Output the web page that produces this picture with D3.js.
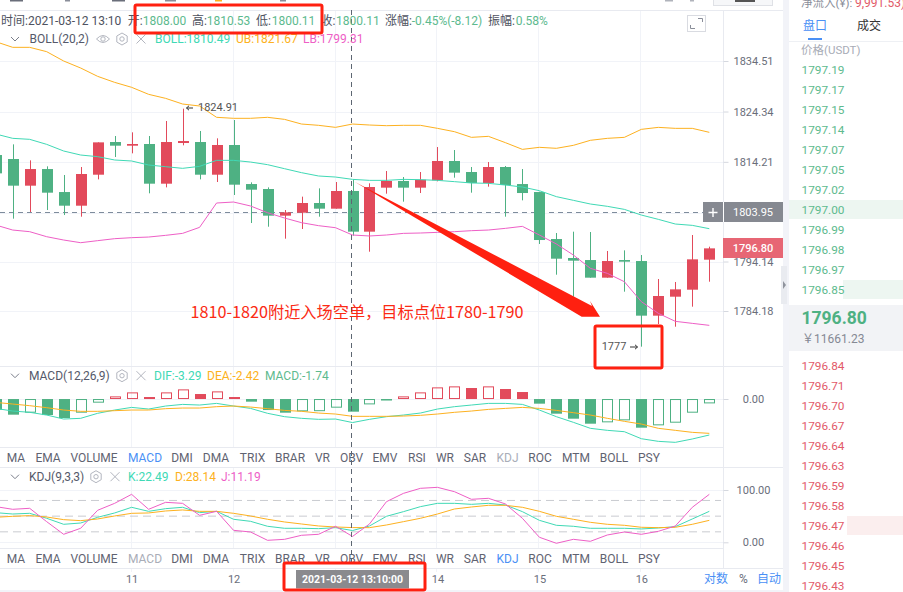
<!DOCTYPE html>
<html><head><meta charset="utf-8">
<script src="https://cdnjs.cloudflare.com/ajax/libs/d3/7.8.5/d3.min.js"></script>
<style>
html,body{margin:0;padding:0;background:#fff;overflow:hidden}
svg{display:block}
text{font-family:Roboto,"Noto Sans CJK SC",sans-serif}
</style></head><body><svg id="c" width="903" height="592"></svg>
<script>
const opens=[1815.58,1814.78,1809.41,1812.76,1808.13,1805.38,1811.62,1818.20,1817.46,1817.80,1809.81,1818.00,1818.20,1811.62,1817.60,1809.74,1808.74,1803.37,1803.97,1805.92,1804.78,1808.34,1800.15,1809.01,1810.35,1809.01,1810.48,1814.38,1812.16,1809.95,1813.17,1809.74,1808.13,1798.67,1794.85,1794.44,1790.89,1794.44,1794.24,1783.24,1787.06,1788.47,1794.51];
const highs=[1816.50,1817.73,1814.51,1813.30,1811.56,1813.17,1818.13,1819.41,1820.15,1819.41,1822.43,1824.91,1820.42,1818.94,1822.63,1810.08,1809.07,1804.51,1807.20,1808.87,1810.15,1810.68,1809.88,1812.36,1811.15,1812.16,1817.19,1816.59,1813.17,1814.17,1813.37,1812.76,1808.20,1799.88,1800.15,1800.08,1796.26,1796.39,1795.45,1790.62,1790.02,1799.48,1797.13];
const lows=[1810.00,1802.77,1804.11,1804.51,1803.50,1803.17,1810.68,1815.18,1815.92,1807.87,1809.07,1817.53,1810.68,1810.15,1807.53,1801.89,1801.15,1798.74,1800.69,1803.17,1804.78,1799.34,1796.12,1807.80,1806.19,1807.93,1810.28,1811.02,1808.00,1809.21,1803.17,1806.46,1797.67,1791.49,1787.06,1790.89,1790.89,1788.07,1777.00,1781.56,1781.02,1785.05,1790.08];
const closes=[1811.89,1809.41,1812.76,1808.00,1805.38,1811.76,1818.13,1817.46,1817.80,1809.81,1818.20,1818.40,1811.62,1817.60,1809.61,1808.60,1803.37,1804.04,1805.92,1804.78,1808.34,1800.15,1809.14,1810.35,1809.01,1810.62,1814.38,1812.03,1809.95,1813.17,1809.54,1807.93,1798.47,1794.71,1794.31,1790.89,1794.24,1794.11,1783.24,1787.20,1788.54,1794.58,1796.79];
const bollUp=[1838.40,1837.26,1837.26,1836.39,1834.51,1833.10,1831.42,1830.21,1829.21,1827.80,1826.99,1825.85,1825.45,1823.17,1822.97,1822.97,1823.17,1822.76,1821.82,1821.56,1821.15,1821.82,1821.62,1821.49,1821.56,1821.56,1820.95,1820.28,1819.14,1819.34,1818.07,1816.72,1817.13,1816.93,1817.53,1818.54,1818.94,1819.14,1820.75,1821.15,1820.95,1820.95,1820.15];
const bollMid=[1819.81,1818.94,1818.74,1817.73,1816.39,1815.58,1815.25,1814.58,1814.38,1813.57,1813.23,1812.90,1813.30,1814.51,1814.51,1814.17,1813.64,1812.83,1812.03,1811.36,1811.15,1810.68,1810.48,1810.48,1810.68,1810.62,1810.48,1810.22,1809.95,1809.88,1809.54,1809.14,1808.40,1807.20,1806.46,1805.72,1805.25,1804.64,1803.50,1802.63,1801.69,1801.42,1800.75];
const bollLow=[1801.49,1800.48,1800.15,1799.14,1798.47,1797.93,1798.34,1798.74,1798.94,1799.07,1799.41,1799.81,1801.02,1805.92,1806.12,1805.32,1803.97,1802.90,1801.96,1801.36,1800.95,1799.48,1799.28,1799.48,1799.81,1799.88,1800.01,1800.15,1800.35,1800.48,1800.82,1801.22,1799.48,1797.67,1795.45,1792.77,1791.76,1790.08,1786.06,1783.71,1782.10,1781.69,1781.29];
const macdBars=[-1.50,-2.19,-1.91,-2.24,-2.66,-1.91,-0.51,0.37,0.93,0.28,0.93,1.35,0.70,1.07,0.28,-0.37,-1.54,-1.91,-1.72,-1.70,-1.21,-1.77,-0.75,-0.14,0.37,0.93,1.63,1.77,1.54,1.77,1.40,0.98,-0.65,-2.05,-2.75,-3.45,-3.26,-2.98,-4.01,-3.68,-3.31,-1.91,-0.61];
const difLine=[-1.31,-1.68,-1.86,-2.24,-2.80,-2.70,-2.00,-1.54,-1.17,-1.40,-0.98,-0.75,-0.84,-0.61,-0.98,-1.31,-2.00,-2.47,-2.70,-2.84,-2.80,-3.29,-2.84,-2.47,-2.24,-1.96,-1.40,-1.07,-0.84,-0.61,-0.61,-0.75,-1.54,-2.47,-3.26,-4.10,-4.38,-4.57,-5.55,-5.92,-6.06,-5.59,-5.03];
const deaLine=[-0.47,-0.70,-0.93,-1.21,-1.54,-1.72,-1.72,-1.63,-1.54,-1.54,-1.35,-1.26,-1.26,-1.07,-0.98,-1.12,-1.35,-1.59,-1.72,-1.96,-2.10,-2.42,-2.42,-2.42,-2.38,-2.28,-2.10,-1.86,-1.68,-1.45,-1.31,-1.17,-1.31,-1.59,-1.91,-2.24,-2.70,-3.12,-3.50,-4.10,-4.38,-4.66,-4.80];
const kLine=[56.7,54.1,55.4,45.9,34.4,36.9,47.8,56.1,66.9,59.2,64.3,66.9,56.7,59.2,44.0,40.1,30.6,26.8,26.8,26.1,28.0,22.49,31.2,49.7,58.6,68.2,74.5,74.5,72.6,74.5,71.3,58.6,42.0,32.5,30.6,26.8,26.8,26.8,25.5,27.4,29.9,44.6,59.2];
const dLine=[47.8,49.7,51.0,48.4,43.3,41.4,44.6,50.3,55.4,56.1,59.9,61.8,59.2,59.2,55.4,50.3,44.0,38.9,35.0,31.2,29.3,28.14,28.0,33.1,39.5,45.9,54.1,63.7,67.5,70.7,70.7,66.9,59.2,49.7,44.0,38.2,34.4,32.5,28.7,28.0,28.7,34.4,42.0];
const jLine=[68.2,63.1,65.0,39.5,15.3,26.8,61.2,74.5,91.7,63.1,76.4,74.5,51.6,59.2,22.9,19.7,3.8,5.7,13.4,15.3,30.6,11.19,35.0,77.7,93.6,103.2,105.1,96.8,82.2,84.1,73.3,45.9,9.6,-1.9,5.7,1.9,14.0,19.7,15.3,21.0,31.2,66.9,91.7];
const priceTicks=[1834.51,1824.34,1814.21,1794.14,1784.18];
const macdTicks=[0];
const kdjTicks=[100,0];
const kdjGuides=[80,50,20];
const dateTickIdx=[8,14,26,32,38];
const dateTickLabels=["11","12","14","15","16"];
const gridIdx=[8,14,20,26,32,38];
const tabs=["MA","EMA","VOLUME","MACD","DMI","DMA","TRIX","BRAR","VR","OBV","EMV","RSI","WR","SAR","KDJ","ROC","MTM","BOLL","PSY"];
const tabX=[16,48,94,145,182,216,252.6,290,322.5,351.5,385,417,445,475,507.5,540,576,614,649];
const askPrices=["1797.19","1797.17","1797.15","1797.14","1797.07","1797.05","1797.02","1797.00","1796.99","1796.98","1796.97","1796.85"];
const bidPrices=["1796.84","1796.71","1796.70","1796.67","1796.64","1796.63","1796.59","1796.58","1796.47","1796.46","1796.45","1796.43"];

const GREEN="#4eb183",RED="#e24a5b",TEAL="#40d9b5",ORANGE="#fdb120",PINK="#ee5fc6",GRID="#f1f3f8",LINE="#e8eaf0",TXT="#5f6371",TG="#5dba8e",BLUE="#4a90f5",RTX="#e25a69";
const svg=d3.select("#c");
const n=opens.length;
const x=d3.scaleLinear().domain([0,n-1]).range([-4.3,709.3]);
const yP=d3.scaleLinear().domain([1784.18,1834.51]).range([311,61]);
const yM=d3.scaleLinear().domain([-6.71,4.48]).range([447,367]);
const yK=d3.scaleLinear().domain([0,100]).range([542.3,490]);
const idx=d3.range(n);
function T(s,px,py,o={}){const t=svg.append("text").attr("x",px).attr("y",py).attr("fill",o.c||TXT).attr("font-size",o.s||12).attr("dominant-baseline","central").attr("text-anchor",o.a||"start").text(s);if(o.w)t.attr("font-weight",o.w);if(o.ls)t.attr("letter-spacing",o.ls);if(o.f)t.style("font-family",o.f);return t;}
function R(a,b,w,h,f){return svg.append("rect").attr("x",a).attr("y",b).attr("width",w).attr("height",h).attr("fill",f);}
function HL(a,b,yy,c,sw=1,dash){const l=svg.append("line").attr("x1",a).attr("x2",b).attr("y1",yy).attr("y2",yy).attr("stroke",c).attr("stroke-width",sw);if(dash)l.attr("stroke-dasharray",dash);return l;}
function VL(xx,a,b,c,sw=1,dash){const l=svg.append("line").attr("x1",xx).attr("x2",xx).attr("y1",a).attr("y2",b).attr("stroke",c).attr("stroke-width",sw);if(dash)l.attr("stroke-dasharray",dash);return l;}

// page pieces
R(783,0,6,592,"#f2f3f8");
R(0,590,789,2,"#f2f3f8");
// cut-off toolbar at the very top
[[10,13,"#6a6e7a"],[65,5,"#8a8e99"],[112,13,"#6a6e7a"],[165,11,"#8a8e99"],[215,7,ORANGE],[280,6,"#8a8e99"],[665,8,"#b0b3bb"],[690,4,"#b0b3bb"]].forEach(b=>R(b[0],0,b[1],1.5,b[2]));
svg.append("rect").attr("x",713.5).attr("y",-3).attr("width",59).attr("height",8.5).attr("fill","#f6f7f9").attr("stroke","#dfe1e6");
R(735,0,20,2,"#555");

// grids
gridIdx.forEach(i=>{const gx=Math.round(x(i))-0.5;VL(gx,10,447,GRID);VL(gx,467,548,GRID);VL(gx,568,572,GRID);});
priceTicks.concat([1803.95]).forEach(v=>HL(0,723,Math.round(yP(v))+0.5,GRID));
macdTicks.forEach(v=>HL(0,723,Math.round(yM(v))+0.5,GRID));
kdjTicks.forEach(v=>HL(0,723,Math.round(yK(v))+0.5,GRID));
[10.5,366.5,447.5,467.5,548.5].forEach(v=>HL(0,723,v,LINE,v===366.5?1.2:1));
HL(0,783,568.5,LINE);
HL(723,783,10.5,LINE);HL(723,783,366.5,LINE);HL(723,783,467.5,LINE);
VL(723.5,10,568,LINE);

// axes
function styleAxis(g){g.select(".domain").remove();g.selectAll(".tick line").attr("stroke","#d5d8df");g.selectAll(".tick text").attr("x",30).attr("text-anchor","middle").attr("fill","#6a6e7a").attr("font-size",11).style("font-family","Roboto");}
svg.append("g").attr("transform","translate(723.5,0)").call(d3.axisRight(yP).tickValues(priceTicks).tickSize(5).tickFormat(d3.format(".2f"))).call(styleAxis);
svg.append("g").attr("transform","translate(723.5,0)").call(d3.axisRight(yM).tickValues(macdTicks).tickSize(5).tickFormat(d3.format(".2f"))).call(styleAxis);
svg.append("g").attr("transform","translate(723.5,0)").call(d3.axisRight(yK).tickValues(kdjTicks).tickSize(5).tickFormat(d3.format(".2f"))).call(styleAxis);
const xAx=svg.append("g").attr("transform","translate(0,572)").call(d3.axisBottom(x).tickValues(dateTickIdx).tickSize(0).tickFormat((d,i)=>dateTickLabels[i]));
xAx.select(".domain").remove();
xAx.selectAll(".tick text").attr("y",7).attr("dy","0").attr("dominant-baseline","central").attr("fill","#6a6e7a").attr("font-size",11).style("font-family","Roboto");

// current price dash
HL(0,703,212.5,"#7e8c9c",1,"5,4");

// candles
const cg=svg.append("g");
idx.forEach(i=>{const up=closes[i]>=opens[i],col=up?RED:GREEN,cx=Math.round(x(i))+0.5;
  cg.append("line").attr("x1",cx).attr("x2",cx).attr("y1",yP(highs[i])).attr("y2",yP(lows[i])).attr("stroke",col).attr("stroke-width",1);
  const t=yP(Math.max(opens[i],closes[i])),b=yP(Math.min(opens[i],closes[i]));
  cg.append("rect").attr("x",cx-5.5).attr("y",t).attr("width",11).attr("height",Math.max(1,b-t)).attr("fill",col);
});
function lineOf(arr,ys){return d3.line().x((d,i)=>x(i)).y(d=>ys(d))(arr);}
[[bollUp,ORANGE],[bollMid,TEAL],[bollLow,PINK]].forEach(([a,c])=>svg.append("path").attr("d",lineOf(a,yP)).attr("fill","none").attr("stroke",c).attr("stroke-width",1));

// MACD bars
idx.forEach(i=>{const v=macdBars[i],rising=i>0&&v>macdBars[i-1],col=v>=0?RED:GREEN,t=yM(Math.max(v,0)),b=yM(Math.min(v,0)),cx=Math.round(x(i))+0.5;
  if(rising) svg.append("rect").attr("x",cx-5).attr("y",t+0.5).attr("width",10).attr("height",Math.max(0.5,b-t-1)).attr("fill","none").attr("stroke",col).attr("stroke-width",1);
  else svg.append("rect").attr("x",cx-5.5).attr("y",t).attr("width",11).attr("height",b-t).attr("fill",col);
});
[[difLine,TEAL],[deaLine,ORANGE]].forEach(([a,c])=>svg.append("path").attr("d",lineOf(a,yM)).attr("fill","none").attr("stroke",c).attr("stroke-width",1));

// KDJ
kdjGuides.forEach(v=>HL(0,721,yK(v),"#c9cbd0",1,"8,5"));
[[kLine,TEAL],[dLine,ORANGE],[jLine,PINK]].forEach(([a,c])=>svg.append("path").attr("d",lineOf(a,yK)).attr("fill","none").attr("stroke",c).attr("stroke-width",1));

// crosshair
VL(351.5,10,568,"#5d6672",1,"5,4");

// header text
const hy=20.5;
T("时间:2021-03-12 13:10",1,hy,{c:"#4e5260"});
[["开:",127.7,"1808.00",142.7],["高:",192,"1810.53",206.7],["低:",256,"1800.11",271.7],["收:",320.5,"1800.11",336],["涨幅:",385,"-0.45%(-8.12)",411.7],["振幅:",488,"0.58%",515.7]].forEach(r=>{T(r[0],r[1],hy,{c:"#4e5260"});T(r[2],r[3],hy,{c:TG});});

function chevron(cy){svg.append("path").attr("d",`M11 ${cy-2}L15 ${cy+2}L19 ${cy-2}`).attr("fill","none").attr("stroke","#7a7e8a");}
function hexIcon(cx,cy){svg.append("path").attr("d",d3.range(6).map(k=>{const a=Math.PI/3*k-Math.PI/2;return (k?"L":"M")+(cx+6*Math.cos(a))+" "+(cy+6*Math.sin(a));}).join("")+"Z").attr("fill","none").attr("stroke","#b3b6bf");svg.append("circle").attr("cx",cx).attr("cy",cy).attr("r",2.2).attr("fill","none").attr("stroke","#b3b6bf");}
function xIcon(cx,cy){svg.append("path").attr("d",`M${cx-4.5} ${cy-4.5}L${cx+4.5} ${cy+4.5}M${cx+4.5} ${cy-4.5}L${cx-4.5} ${cy+4.5}`).attr("stroke","#b3b6bf").attr("fill","none");}
function eyeIcon(cx,cy){svg.append("path").attr("d",`M${cx-6.5} ${cy}Q${cx} ${cy-7} ${cx+6.5} ${cy}Q${cx} ${cy+7} ${cx-6.5} ${cy}Z`).attr("fill","none").attr("stroke","#b3b6bf");svg.append("circle").attr("cx",cx).attr("cy",cy).attr("r",2.2).attr("fill","none").attr("stroke","#b3b6bf");}

chevron(39);T("BOLL(20,2)",29.5,39,{c:"#55596a"});eyeIcon(103,39);hexIcon(122,39);xIcon(141,39);
T("BOLL:1810.49",155,39,{c:TEAL});T("UB:1821.67",236,39,{c:ORANGE});T("LB:1799.31",303,39,{c:PINK});
chevron(375.7);T("MACD(12,26,9)",29,375.7,{c:"#55596a"});hexIcon(122,375.7);xIcon(141,375.7);
T("DIF:-3.29",154,375.7,{c:TEAL});T("DEA:-2.42",207,375.7,{c:ORANGE});T("MACD:-1.74",265,375.7,{c:TG});
chevron(476.7);T("KDJ(9,3,3)",29,476.7,{c:"#55596a"});hexIcon(96,476.7);xIcon(115,476.7);
T("K:22.49",128,476.7,{c:TEAL});T("D:28.14",175,476.7,{c:ORANGE});T("J:11.19",221,476.7,{c:PINK});

// tabs
tabs.forEach((t,i)=>{
 T(t,tabX[i],457.5,{a:"middle",c:t==="MACD"?BLUE:t==="KDJ"?"#a9adb8":TXT});
 T(t,tabX[i],558.5,{a:"middle",c:t==="KDJ"?BLUE:t==="MACD"?"#a9adb8":TXT});
});

// extreme labels
T("1824.91",198,107.5,{s:11,c:"#555"});
svg.append("path").attr("d","M193 108H186.5M189 105.8L186.5 108L189 110.2").attr("fill","none").attr("stroke","#333");
T("1777",601.7,346,{s:11,c:"#555"});
svg.append("path").attr("d","M630 347H637.5M635 344.8L637.5 347L635 349.2").attr("fill","none").attr("stroke","#333");

// price tags
R(703,202,80,20,"#868991");VL(723.5,202,222,"#fff");
svg.append("path").attr("d","M708.5 212.5H717.5M713 208V217").attr("stroke","#fff").attr("stroke-width",1.4);
T("1803.95",753,212,{a:"middle",c:"#fff",s:11});
R(723,238,60,20,"#e76674");
T("1796.80",753,248,{a:"middle",c:"#fff",s:11,w:500});

// expand icon
svg.append("rect").attr("x",687.5).attr("y",15.5).attr("width",18).attr("height",16).attr("fill","#fff").attr("stroke","#d9dbe1");
svg.append("path").attr("d","M690.5 25V28.5H695M698 18.5H702.5V22").attr("fill","none").attr("stroke","#8a8e99");

// bottom-right axis controls
T("对数",704,579,{c:BLUE});T("%",739,579,{c:"#6a6e7a"});T("自动",757,579,{c:BLUE});

// date tag
R(296,570,113,18.5,"#8a8a8e");
T("2021-03-12 13:10:00",352.5,579.3,{a:"middle",c:"#fff",s:10.5,w:700});

// annotation text
T("1810-1820附近入场空单，目标点位1780-1790",190.5,310.5,{s:16.2,c:"#fb2a14",f:'"Noto Sans CJK SC"'});

// red arrow + boxes
svg.append("path").attr("d","M355 182L592 306L590 301L600 316.7L581.7 316.7Z").attr("fill","#ff2010");
[[135,5,187,28],[595,326,67,42],[284,563,141,27]].forEach(b=>svg.append("rect").attr("x",b[0]).attr("y",b[1]).attr("width",b[2]).attr("height",b[3]).attr("rx",1.5).attr("fill","none").attr("stroke","#ff2010").attr("stroke-width",3));

// right panel
T("净流入(¥):",801,3,{s:11.5,c:"#8a8e99"});T("9,991.53)",855,3,{s:12,c:RTX});
T("盘口",803,26,{c:BLUE,s:12});T("成交",857,26,{c:"#333",s:12});
R(808,38,14,2,BLUE);HL(789,903,41.5,"#eef0f4");
T("价格(USDT)",801,50,{s:11.5,c:"#a8acb6"});
R(789,200,114,19,"#edf6f1");R(843,280,60,19,"#edf6f1");
askPrices.forEach((p,i)=>T(p,801.5,69.5+20*i,{c:TG,s:11.8}));
R(789,305,114,46,"#f2f3f6");
T("1796.80",801.5,318,{c:GREEN,s:17.5,w:700});
T("￥11661.23",802,339,{c:"#858994",s:12});
R(847,516,56,19,"#fbeeee");
bidPrices.forEach((p,i)=>T(p,801.5,365.7+20*i,{c:RTX,s:11.8}));
R(781,266,6,38,"#e9ebf0");
svg.append("path").attr("d","M783 281L786 285L783 289Z").attr("fill","#8f939c");
</script></body></html>
